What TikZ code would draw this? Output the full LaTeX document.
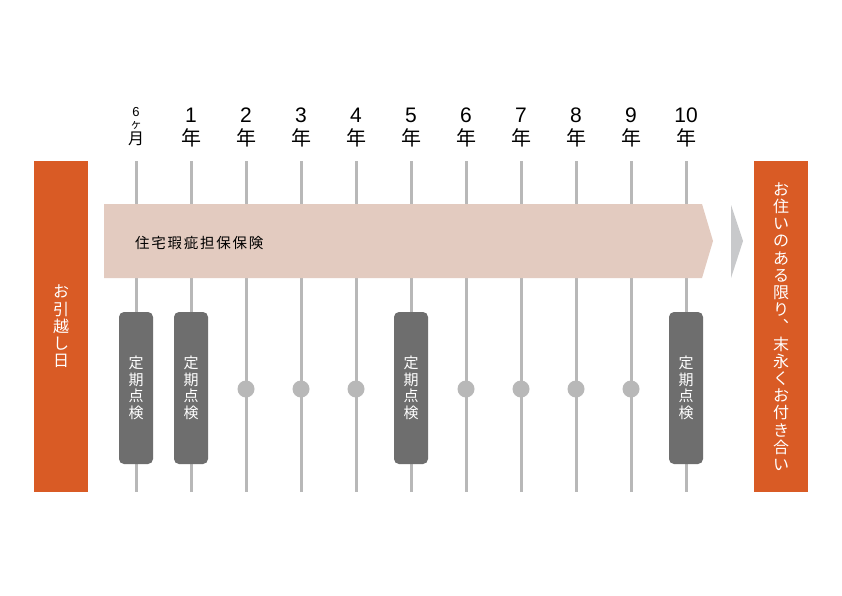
\documentclass[tikz,border=0pt]{standalone}
\usepackage{fontspec}
\newfontfamily\cjk{Noto Sans CJK JP}
\newfontfamily\cjkls[LetterSpace=12]{Noto Sans CJK JP}
\newfontfamily\lat{Liberation Sans}
\definecolor{orng}{HTML}{D95B25}
\definecolor{bandc}{HTML}{E3CBC0}
\definecolor{tickc}{HTML}{B8B8B8}
\definecolor{inspc}{HTML}{6E6E6E}
\definecolor{chevc}{HTML}{C8C9CB}
\tikzset{
  tickline/.style={draw=tickc,line width=3pt},
  endbox/.style={fill=orng,draw=none,minimum width=54pt,minimum height=331pt,inner sep=0pt,text=white,align=center,font=\cjk\fontsize{16}{17.2}\selectfont},
  inspbox/.style={fill=inspc,draw=none,rounded corners=5pt,minimum width=34pt,minimum height=152pt,inner sep=0pt,text=white,align=center,font=\cjk\fontsize{15}{16.5}\selectfont},
  dot/.style={circle,fill=tickc,draw=none,minimum size=17pt,inner sep=0pt},
  yearnum/.style={font=\lat\fontsize{21}{21}\selectfont,inner sep=0pt},
  yearkanji/.style={font=\cjk\fontsize{20}{20}\selectfont,inner sep=0pt},
}
\begin{document}
\begin{tikzpicture}[x=1pt,y=-1pt]
\useasboundingbox (0,0) rectangle (842,595);
\fill[white] (0,0) rectangle (842,595);
% ticks
\foreach \i in {0,...,10}{
  \coordinate (t\i) at (136+55*\i,161);
  \coordinate (b\i) at (136+55*\i,492);
  \draw[tickline] (t\i) -- (b\i);
}
% header labels
\node[font=\lat\fontsize{13}{13}\selectfont,inner sep=0pt] (h0a) at (136,112) {6};
\node[font=\cjk\fontsize{11.5}{11.5}\selectfont,inner sep=0pt] (h0b) at (136,125) {ヶ};
\node[font=\cjk\fontsize{16}{16}\selectfont,inner sep=0pt] (h0c) at (136,139) {月};
\foreach \i in {1,...,10}{
  \node[yearnum] (hn\i) at (136+55*\i,115) {\i};
  \node[yearkanji] (hk\i) at (136+55*\i,138) {年};
}
% band
\fill[bandc] (104,204) -- (702,204) -- (713,241) -- (702,278) -- (104,278) -- cycle;
\node[anchor=west,font=\cjkls\fontsize{14.5}{14.5}\selectfont,inner sep=0pt] (ins) at (135,243) {住宅瑕疵担保保険};
% chevron
\fill[chevc] (731,205) -- (743,241) -- (731,278) -- cycle;
% end boxes
\node[endbox] (start) at (61,326.5) {お\\引\\越\\し\\日};
\node[endbox] (goal) at (781,326.5) {お\\住\\い\\の\\あ\\る\\限\\り\\︑\\末\\永\\く\\お\\付\\き\\合\\い};
% inspections
\foreach \i in {0,1,5,10}{
  \node[inspbox] (ip\i) at (136+55*\i,388) {定\\期\\点\\検};
}
\foreach \i in {2,3,4,6,7,8,9}{
  \node[dot] (d\i) at (136+55*\i,389) {};
}
\end{tikzpicture}
\end{document}
